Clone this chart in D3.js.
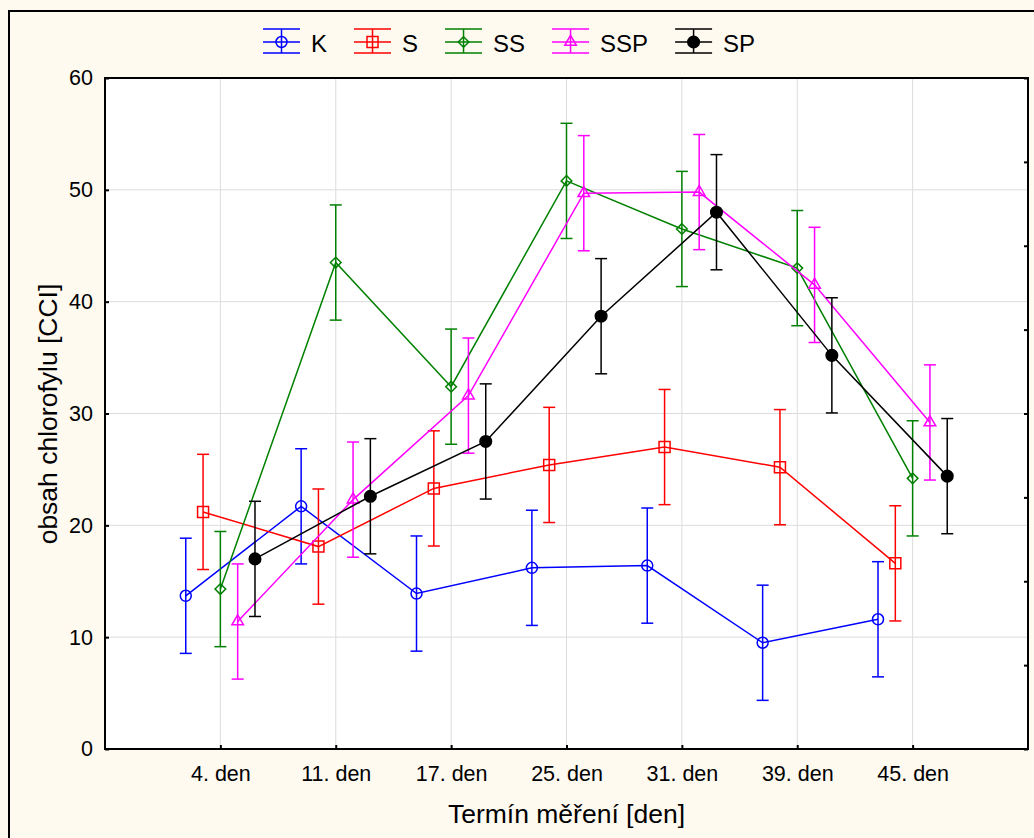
<!DOCTYPE html>
<html>
<head>
<meta charset="utf-8">
<script src="https://cdn.jsdelivr.net/npm/d3@7"></script>
<style>
  body { margin: 0; background: #fefaf0; }
  svg { display: block; font-family: "Liberation Sans", Arial, sans-serif; }
</style>
</head>
<body>
<div id="chart"></div>
<script>
const categories = ["4. den", "11. den", "17. den", "25. den", "31. den", "39. den", "45. den"];
const seriesNames = ["K", "S", "SS", "SSP", "SP"];

// mean values
const kMeans   = [13.7, 21.7, 13.9, 16.2, 16.4, 9.5, 11.6];
const sMeans   = [21.2, 18.1, 23.3, 25.4, 27.0, 25.2, 16.6];
const ssMeans  = [14.3, 43.5, 32.4, 50.8, 46.5, 43.0, 24.2];
const sspMeans = [11.4, 22.3, 31.6, 49.7, 49.8, 41.5, 29.2];
const spMeans  = [17.0, 22.6, 27.5, 38.7, 48.0, 35.2, 24.4];

// half length of the error bars
const kErr   = [5.15, 5.15, 5.15, 5.15, 5.15, 5.15, 5.15];
const sErr   = [5.15, 5.15, 5.15, 5.15, 5.15, 5.15, 5.15];
const ssErr  = [5.15, 5.15, 5.15, 5.15, 5.15, 5.15, 5.15];
const sspErr = [5.15, 5.15, 5.15, 5.15, 5.15, 5.15, 5.15];
const spErr  = [5.15, 5.15, 5.15, 5.15, 5.15, 5.15, 5.15];

const yTicks = [0, 10, 20, 30, 40, 50, 60];

const means = [kMeans, sMeans, ssMeans, sspMeans, spMeans];
const errs = [kErr, sErr, ssErr, sspErr, spErr];
const colors = ["#0000ff", "#ff0000", "#008000", "#ff00ff", "#000000"];
const symbols = [d3.symbolCircle, d3.symbolSquare, d3.symbolDiamond2, d3.symbolTriangle, d3.symbolCircle];
const symbolSizes = [95, 121, 72, 58, 105];
const filled = [false, false, false, false, true];

const series = seriesNames.map((name, i) => ({
  name: name,
  index: i,
  color: colors[i],
  points: categories.map((c, j) => ({ cat: c, mean: means[i][j], err: errs[i][j] }))
}));

const width = 1034, height = 838;
const plotLeft = 105, plotRight = 1028, plotTop = 78, plotBottom = 749;

const svg = d3.select("#chart")
  .append("svg")
    .attr("width", width)
    .attr("height", height);

svg.append("rect")
  .attr("x", 0).attr("y", 0)
  .attr("width", width).attr("height", height)
  .attr("fill", "#fefaf0");

// outer frame, cut off on the right and bottom
svg.append("rect")
  .attr("x", 9).attr("y", 11)
  .attr("width", 1100).attr("height", 900)
  .attr("fill", "none")
  .attr("stroke", "black")
  .attr("stroke-width", 2);

const x = d3.scalePoint()
  .domain(categories)
  .range([plotLeft, plotRight])
  .padding(1);

const y = d3.scaleLinear()
  .domain([0, 60])
  .range([plotBottom, plotTop]);

const offset = (i) => (i - 2) * 0.15 * x.step();

svg.append("rect")
  .attr("x", plotLeft).attr("y", plotTop)
  .attr("width", plotRight - plotLeft).attr("height", plotBottom - plotTop)
  .attr("fill", "white");

// grid
svg.append("g")
  .selectAll("line")
  .data(yTicks.slice(1, -1))
  .enter()
  .append("line")
    .attr("x1", plotLeft).attr("x2", plotRight)
    .attr("y1", (d) => y(d)).attr("y2", (d) => y(d))
    .attr("stroke", "#dcdcdc");

svg.append("g")
  .selectAll("line")
  .data(categories)
  .enter()
  .append("line")
    .attr("x1", (d) => x(d)).attr("x2", (d) => x(d))
    .attr("y1", plotTop).attr("y2", plotBottom)
    .attr("stroke", "#dcdcdc");

// axes
const yAxis = svg.append("g")
  .attr("transform", `translate(${plotLeft},0)`)
  .call(d3.axisLeft(y).tickValues(yTicks).tickSizeInner(-4).tickSizeOuter(0).tickPadding(12));

const xAxis = svg.append("g")
  .attr("transform", `translate(0,${plotBottom})`)
  .call(d3.axisBottom(x).tickSizeInner(-4).tickSizeOuter(0).tickPadding(17));

const rightAxis = svg.append("g")
  .attr("transform", `translate(${plotRight},0)`)
  .call(d3.axisRight(y).tickValues(d3.range(0, 60.1, 7.5)).tickSizeInner(-4).tickSizeOuter(0).tickFormat(""));

[yAxis, xAxis, rightAxis].forEach((g) => {
  g.select(".domain").remove();
  g.selectAll("line").attr("stroke", "black").attr("stroke-width", 2);
  g.selectAll("text").attr("font-size", 21.5).attr("fill", "black")
    .attr("font-family", "'Liberation Sans', Arial, sans-serif");
});

// plot frame
svg.append("rect")
  .attr("x", plotLeft).attr("y", plotTop)
  .attr("width", plotRight - plotLeft).attr("height", plotBottom - plotTop)
  .attr("fill", "none")
  .attr("stroke", "black")
  .attr("stroke-width", 2);

// series
const line = d3.line()
  .x((d) => d.px)
  .y((d) => y(d.mean));

series.forEach((s) => {
  const g = svg.append("g");
  const pts = s.points.map((p) => Object.assign({ px: x(p.cat) + offset(s.index) }, p));

  g.append("path")
    .datum(pts)
    .attr("d", line)
    .attr("fill", "none")
    .attr("stroke", s.color)
    .attr("stroke-width", 1.5);

  const bars = g.selectAll(".bar")
    .data(pts)
    .enter()
    .append("g");

  bars.append("line")
    .attr("x1", (d) => d.px).attr("x2", (d) => d.px)
    .attr("y1", (d) => y(d.mean - d.err)).attr("y2", (d) => y(d.mean + d.err));
  bars.append("line")
    .attr("x1", (d) => d.px - 6).attr("x2", (d) => d.px + 6)
    .attr("y1", (d) => y(d.mean + d.err)).attr("y2", (d) => y(d.mean + d.err));
  bars.append("line")
    .attr("x1", (d) => d.px - 6).attr("x2", (d) => d.px + 6)
    .attr("y1", (d) => y(d.mean - d.err)).attr("y2", (d) => y(d.mean - d.err));
  bars.selectAll("line")
    .attr("stroke", s.color)
    .attr("stroke-width", 1.5);

  g.selectAll(".mark")
    .data(pts)
    .enter()
    .append("path")
      .attr("transform", (d) => `translate(${d.px},${y(d.mean)})`)
      .attr("d", d3.symbol().type(symbols[s.index]).size(symbolSizes[s.index]))
      .attr("fill", filled[s.index] ? s.color : "none")
      .attr("stroke", s.color)
      .attr("stroke-width", 1.5);
});

// legend
let lx = 263;
series.forEach((s) => {
  const g = svg.append("g").attr("transform", `translate(${lx},0)`);
  [29, 42, 53].forEach((ly) => {
    g.append("line")
      .attr("x1", 0).attr("x2", 37)
      .attr("y1", ly).attr("y2", ly)
      .attr("stroke", s.color).attr("stroke-width", 1.5);
  });
  g.append("line")
    .attr("x1", 18.5).attr("x2", 18.5)
    .attr("y1", 29).attr("y2", 53)
    .attr("stroke", s.color).attr("stroke-width", 1.5);
  g.append("path")
    .attr("transform", "translate(18.5,42)")
    .attr("d", d3.symbol().type(symbols[s.index]).size(symbolSizes[s.index]))
    .attr("fill", filled[s.index] ? s.color : "none")
    .attr("stroke", s.color)
    .attr("stroke-width", 1.5);
  const t = g.append("text")
    .attr("x", 48).attr("y", 51.5)
    .attr("font-size", 24)
    .text(s.name);
  lx += 48 + t.node().getComputedTextLength() + 27;
});

// axis titles
svg.append("text")
  .attr("x", (plotLeft + plotRight) / 2)
  .attr("y", 823)
  .attr("text-anchor", "middle")
  .attr("font-size", 26.5)
  .text("Termín měření [den]");

svg.append("text")
  .attr("transform", "rotate(-90)")
  .attr("x", -414)
  .attr("y", 57)
  .attr("text-anchor", "middle")
  .attr("font-size", 26.5)
  .text("obsah chlorofylu [CCI]");
</script>
</body>
</html>
